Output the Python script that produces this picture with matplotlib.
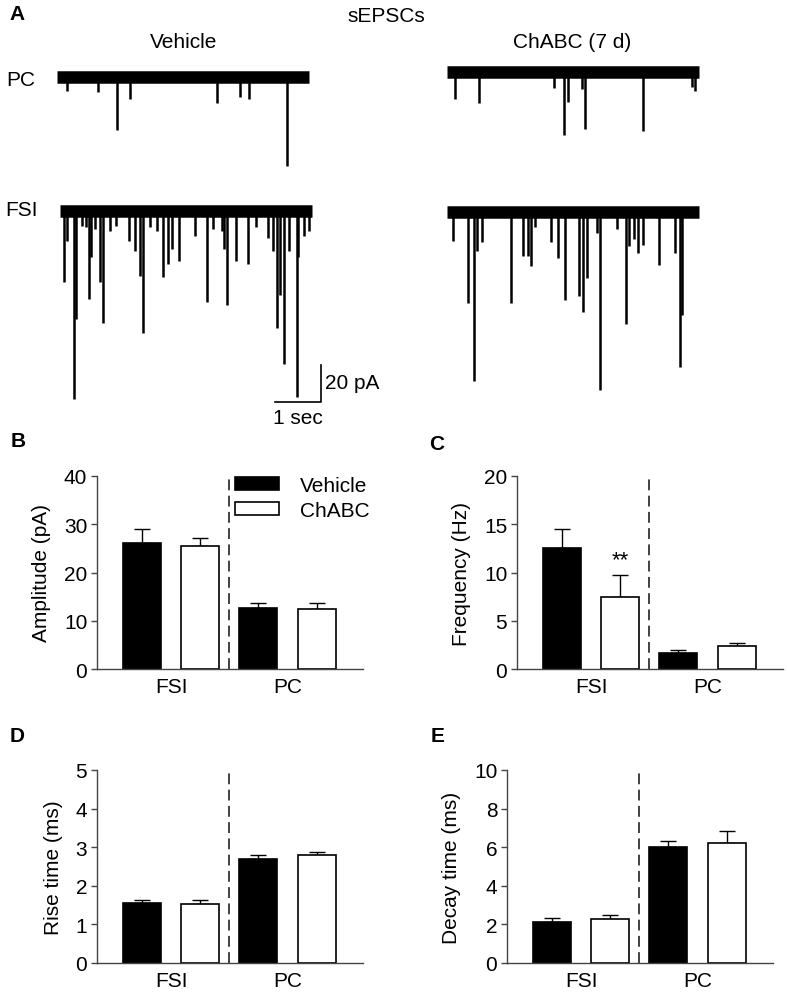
import numpy as np
import matplotlib
matplotlib.use("Agg")
import matplotlib.pyplot as plt
from matplotlib.patches import Patch

plt.rcParams['font.family'] = ['Liberation Sans', 'DejaVu Sans']
plt.rcParams['font.size'] = 15

# ---- panel A: sEPSC events (time in s, amplitude in pA)
pc_veh_t = [0.22, 0.89, 1.30, 1.59, 3.48, 3.98, 4.17, 5.00]
pc_veh_a = [7.6, 8.1, 28.6, 12.0, 14.0, 10.8, 11.9, 48.1]

pc_chabc_t = [0.17, 0.70, 2.33, 2.54, 2.63, 2.93, 3.00, 4.26, 5.33, 5.39]
pc_chabc_a = [14.6, 16.8, 8.6, 34.1, 16.2, 9.2, 30.8, 31.9, 8.1, 10.3]

fsi_veh_t = [0.09, 0.15, 0.30, 0.35, 0.48, 0.57, 0.63, 0.67, 0.76, 0.87,
             0.93, 1.09, 1.22, 1.50, 1.63, 1.74, 1.80, 1.96, 2.11, 2.24,
             2.35, 2.43, 2.59, 2.93, 3.20, 3.33, 3.52, 3.57, 3.63, 3.83,
             4.09, 4.26, 4.52, 4.63, 4.72, 4.78, 4.87, 4.98, 5.15, 5.17,
             5.30, 5.41]
fsi_veh_a = [38.4, 16.2, 101.6, 58.4, 8.1, 8.6, 47.6, 24.9, 9.7, 38.4,
             60.5, 10.8, 8.0, 16.2, 21.6, 35.1, 65.9, 8.6, 10.8, 35.7,
             28.6, 20.5, 27.0, 13.5, 49.2, 9.7, 10.8, 20.5, 50.8, 27.0,
             28.6, 8.6, 14.6, 21.6, 63.2, 45.4, 82.7, 21.6, 100.5, 24.9,
             13.5, 10.8]

fsi_chabc_t = [0.13, 0.46, 0.59, 0.65, 0.76, 1.39, 1.65, 1.76, 1.83, 1.91,
               2.26, 2.41, 2.57, 2.87, 2.96, 3.04, 3.26, 3.33, 3.70, 3.89,
               3.96, 4.07, 4.15, 4.26, 4.61, 4.96, 5.07, 5.11]
fsi_chabc_a = [15.7, 49.2, 91.4, 21.1, 16.2, 49.2, 23.8, 23.8, 29.2, 8.0,
               16.2, 24.9, 47.6, 45.4, 54.1, 35.7, 11.4, 96.2, 9.0, 60.5,
               18.4, 14.6, 22.2, 17.8, 28.6, 22.2, 83.8, 55.7]

trace_dur = 5.48

# ---- panels B-E: mean and upper SEM
groups = ['FSI', 'PC']
amp_mean = [26.2, 25.4, 12.6, 12.4]
amp_err = [2.9, 1.7, 1.1, 1.2]
freq_mean = [12.5, 7.5, 1.7, 2.4]
freq_err = [2.0, 2.2, 0.25, 0.25]
rise_mean = [1.55, 1.52, 2.70, 2.80]
rise_err = [0.08, 0.10, 0.09, 0.07]
decay_mean = [2.13, 2.27, 5.99, 6.20]
decay_err = [0.21, 0.24, 0.31, 0.62]

W, H = 787, 995
fig = plt.figure(figsize=(W / 100, H / 100), dpi=100)


def box(left, top, w, h):
    return [left / W, 1 - (top + h) / H, w / W, h / H]


def ftext(x, y, s, **kw):
    fig.text(x / W, 1 - y / H, s, **kw)


# ---- panel A
px_s = 46.0       # pixels per second
px_pA = 1.85      # pixels per pA
axA = fig.add_axes(box(0, 0, W, 420))
axA.set_xlim(0, W / px_s)
axA.set_ylim(-420 / px_pA, 0)
axA.axis('off')


def trace(x0, y0, times, amps):
    t0 = x0 / px_s
    base = -y0 / px_pA
    axA.plot([t0, t0 + trace_dur], [base, base], color='black', lw=9,
             solid_capstyle='butt')
    t = t0 + np.array(times)
    axA.vlines(t, base, base - np.array(amps), color='black', lw=1.8)


trace(57, 78, pc_veh_t, pc_veh_a)
trace(447, 73, pc_chabc_t, pc_chabc_a)
trace(60, 212, fsi_veh_t, fsi_veh_a)
trace(447, 213, fsi_chabc_t, fsi_chabc_a)

sx, sy = 321 / px_s, -403 / px_pA
axA.plot([sx - 1, sx, sx], [sy, sy, sy + 20], color='black', lw=1.2)
ftext(325, 384, '20 pA', ha='left', va='center')
ftext(298, 418, '1 sec', ha='center', va='center')

ftext(386, 17, 'sEPSCs', ha='center', va='center')
ftext(184, 43, 'Vehicle', ha='center', va='center')
ftext(572, 43, 'ChABC (7 d)', ha='center', va='center')
ftext(6, 81, 'PC', ha='left', va='center')
ftext(5, 210, 'FSI', ha='left', va='center')

for lab, x, y in [('A', 17, 14), ('B', 18, 442), ('C', 437, 444),
                  ('D', 17, 736), ('E', 438, 736)]:
    ftext(x, y, lab, ha='center', va='center', fontsize=15, fontweight='bold')


# ---- bar panels
def bar_panel(rect, means, errs, ymax, step, ylabel):
    ax = fig.add_axes(rect)
    x = np.arange(4)
    colors = ['black', 'white', 'black', 'white']
    ax.errorbar(x, means, yerr=[np.zeros(4), errs], fmt='none',
                ecolor='black', elinewidth=1, capsize=5.5, capthick=1,
                zorder=1)
    ax.bar(x, means, width=0.655, color=colors, edgecolor='black',
           linewidth=1.2, zorder=2)
    ax.axvline(1.5, ymin=0, ymax=0.985, color='#333333', lw=1.3,
               dashes=(6, 3))
    ax.set_xlim(-0.78, 3.8)
    ax.set_ylim(0, ymax)
    ax.set_yticks(np.arange(0, ymax + step / 2, step))
    ax.set_xticks([0.5, 2.5])
    ax.set_xticklabels(groups)
    ax.tick_params(axis='x', length=0, pad=6)
    ax.tick_params(axis='y', length=4, width=1, color='#444444', pad=3)
    for s in ['top', 'right']:
        ax.spines[s].set_visible(False)
    for s in ['left', 'bottom']:
        ax.spines[s].set_color('#444444')
        ax.spines[s].set_linewidth(1)
    ax.set_ylabel(ylabel, labelpad=9)
    return ax


axB = bar_panel(box(97, 477, 266, 193), amp_mean, amp_err, 40, 10,
                'Amplitude (pA)')
axC = bar_panel(box(517, 477, 266, 193), freq_mean, freq_err, 20, 5,
                'Frequency (Hz)')
axD = bar_panel(box(97, 771, 266, 193), rise_mean, rise_err, 5, 1,
                'Rise time (ms)')
axE = bar_panel(box(507, 771, 266, 193), decay_mean, decay_err, 10, 2,
                'Decay time (ms)')

axC.text(1, 11.3, '**', ha='center', va='center', fontsize=16)

handles = [Patch(facecolor='black', edgecolor='black', lw=1.2),
           Patch(facecolor='white', edgecolor='black', lw=1.2)]
axB.legend(handles, ['Vehicle', 'ChABC'], loc='upper left',
           bbox_to_anchor=(0.52, 1.0), frameon=False, handlelength=2.1,
           handleheight=0.6, handletextpad=1.0, labelspacing=0.28,
           borderpad=0, borderaxespad=0)

fig.savefig('out.png', dpi=100)
